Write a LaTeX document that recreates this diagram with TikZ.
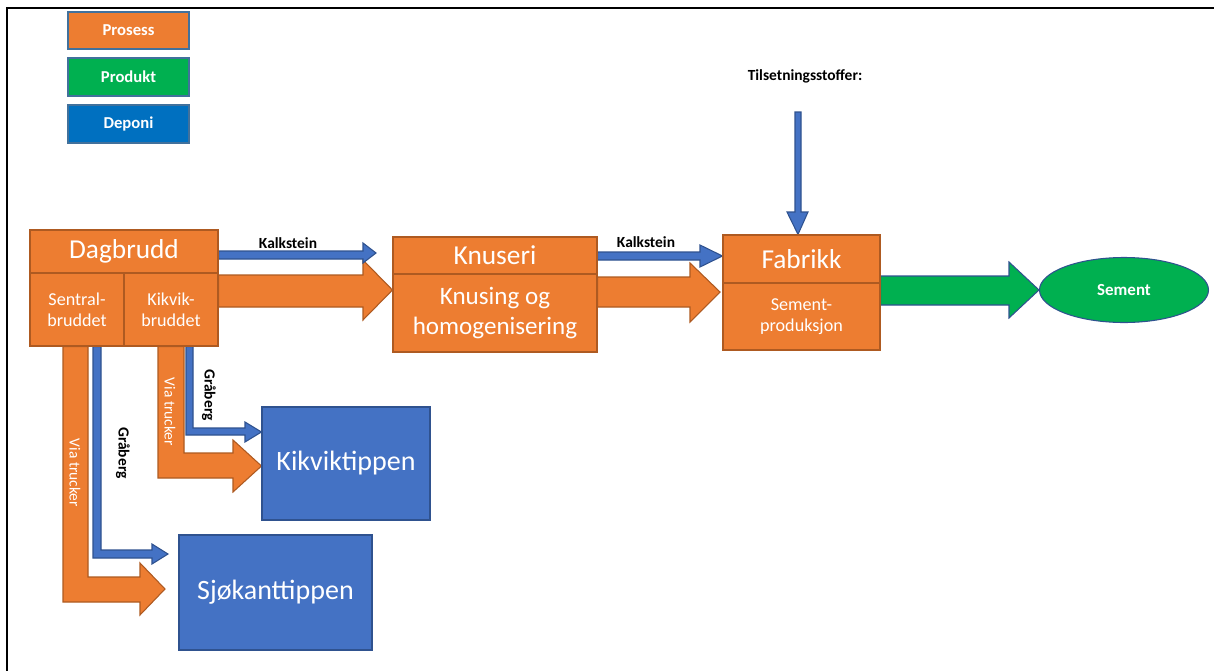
\documentclass[tikz,border=0pt]{standalone}
\usepackage{fontspec}
\setmainfont{Carlito}
\usetikzlibrary{backgrounds,calc,shapes.geometric}
\definecolor{org}{HTML}{ED7D31}
\definecolor{orgd}{HTML}{AE5A21}
\definecolor{blu}{HTML}{4472C4}
\definecolor{blud}{HTML}{2F528F}
\definecolor{grn}{HTML}{00B050}
\definecolor{depc}{HTML}{0070C0}
\definecolor{legd}{HTML}{41719C}
\newcommand{\fs}[2]{\fontsize{#1}{#2}\selectfont}
\newcommand{\bx}[7]{\node[#6, minimum width={(#4-#2)*0.75pt}, minimum height={(#5-#3)*0.75pt}] (#1) at ({(#2+#4)/2},{(#3+#5)/2}) {#7};}
\begin{document}
\begin{tikzpicture}[x=0.75pt,y=-0.75pt,
  cell/.style={draw=orgd, fill=org, line width=0.8pt, inner sep=0pt, text=white, align=center},
  tip/.style={draw=blud, fill=blu, line width=0.8pt, inner sep=0pt, text=white, font=\fs{21}{25}},
  leg/.style={draw=legd, line width=0.8pt, inner sep=0pt, text=white, font=\fs{12.5}{15}\bfseries},
  oarr/.style={fill=org, draw=orgd, line width=0.8pt, line join=miter},
  barr/.style={fill=blu, draw=blud, line width=0.8pt, line join=miter},
  garr/.style={fill=grn, draw=blud, line width=0.8pt, line join=miter},
  lbl/.style={font=\fs{11.6}{14}\bfseries, text=black, inner sep=0pt},
  vlbl/.style={font=\fs{11.6}{14}, text=white, rotate=-90, inner sep=0pt},
  frameline/.style={line width=1.9pt, draw=black}]
\useasboundingbox (0,0) rectangle (1214,671);
\draw[frameline] (7,671) -- (7,8) -- (1214,8);

% legend
\bx{lp}{68}{12}{189}{49}{leg, fill=org}{Prosess}
\bx{lg}{68}{58}{189}{96}{leg, fill=grn}{Produkt}
\bx{ld}{68}{105}{189}{143}{leg, fill=depc}{Deponi}

% Dagbrudd
\bx{dag}{30}{230}{218}{346}{cell}{}
\bx{dagtop}{30}{230}{218}{273}{cell, font=\fs{20.5}{24}}{Dagbrudd}
\bx{sen}{30}{273}{124}{346}{cell, font=\fs{13.6}{16}}{Sentral-\\bruddet}
\bx{kik}{124}{273}{218}{346}{cell, font=\fs{13.6}{16}}{Kikvik-\\bruddet}

% Knuseri
\bx{knu}{393}{237}{597}{352}{cell}{}
\bx{knutop}{393}{237}{597}{274}{cell, font=\fs{20.5}{24}}{Knuseri}
\bx{knulow}{393}{274}{597}{352}{cell, font=\fs{18.8}{22.5}}{Knusing og\\homogenisering}

% Fabrikk
\bx{fab}{723}{235}{880}{350}{cell}{}
\bx{fabtop}{723}{235}{880}{283}{cell, font=\fs{20.5}{24}}{Fabrikk}
\bx{fablow}{723}{283}{880}{350}{cell, font=\fs{13.6}{16}}{Sement-\\produksjon}

% Sement
\node[ellipse, draw=blud, fill=grn, line width=0.8pt, minimum width={169*0.75pt}, minimum height={65*0.75pt}, inner sep=0pt, text=white, font=\fs{12.7}{15}\bfseries] (sem) at (1124,290) {Sement};

% deponier
\bx{kt}{262}{407}{430}{520}{tip}{Kikviktippen}
\bx{sj}{179}{535}{372}{650}{tip}{Sjøkanttippen}

% labels
\node[lbl] (til) at (805,76) {Tilsetningsstoffer:};
\node[lbl] (k1) at (288,243) {Kalkstein};
\node[lbl] (k2) at (646,242) {Kalkstein};
\coordinate (tilstart) at (798,112);

\begin{scope}[on background layer]
% horizontal arrows
\draw[oarr] (dag.east |- 0,275) -- (363,275) -- (363,260) -- (knu.west |- 0,290) -- (363,320) -- (363,307) -- (dag.east |- 0,307) -- cycle;
\draw[barr] (dagtop.east |- 0,251) -- (363,251) -- (363,243) -- (376,253) -- (363,263) -- (363,259) -- (dagtop.east |- 0,259) -- cycle;
\draw[oarr] (knu.east |- 0,277) -- (690,277) -- (690,263) -- (720,292) -- (690,322) -- (690,307) -- (knu.east |- 0,307) -- cycle;
\draw[barr] (knu.east |- 0,252) -- (700,252) -- (700,245) -- (fab.west |- 0,256) -- (700,267) -- (700,260) -- (knu.east |- 0,260) -- cycle;
\draw[garr] (fab.east |- 0,276) -- (1009,276) -- (1009,262) -- (sem.west) -- (1009,318) -- (1009,305) -- (fab.east |- 0,305) -- cycle;
% down arrow
\draw[barr] (tilstart) ++(-3,0) -- (801,112) -- (801,212) -- (808,212) -- (fab.north -| 798,0) -- (787,212) -- (795,212) -- cycle;
% bent arrows from Sentralbruddet
\draw[oarr] (sen.south -| 63,0) -- (63,602) -- (140,602) -- (140,615) -- (165,589) -- (140,563) -- (140,577) -- (88,577) -- (sen.south -| 88,0) -- cycle;
\draw[barr] (sen.south -| 93,0) -- (93,558) -- (152,558) -- (152,564) -- (168,554) -- (152,544) -- (152,550) -- (101,550) -- (sen.south -| 101,0) -- cycle;
% bent arrows from Kikvikbruddet
\draw[oarr] (kik.south -| 158,0) -- (158,478) -- (233,478) -- (233,492) -- (kt.west |- 0,466) -- (233,440) -- (233,453) -- (184,453) -- (kik.south -| 184,0) -- cycle;
\draw[barr] (kik.south -| 186,0) -- (186,435) -- (245,435) -- (245,442) -- (kt.west |- 0,432) -- (245,422) -- (245,428) -- (193,428) -- (kik.south -| 193,0) -- cycle;
\end{scope}

\node[vlbl] (vt1) at (75,473) {Via trucker};
\node[vlbl] (vt2) at (170,412) {Via trucker};
\node[lbl, rotate=-90] (g1) at (123,453) {Gråberg};
\node[lbl, rotate=-90] (g2) at (209,395) {Gråberg};
\end{tikzpicture}
\end{document}
